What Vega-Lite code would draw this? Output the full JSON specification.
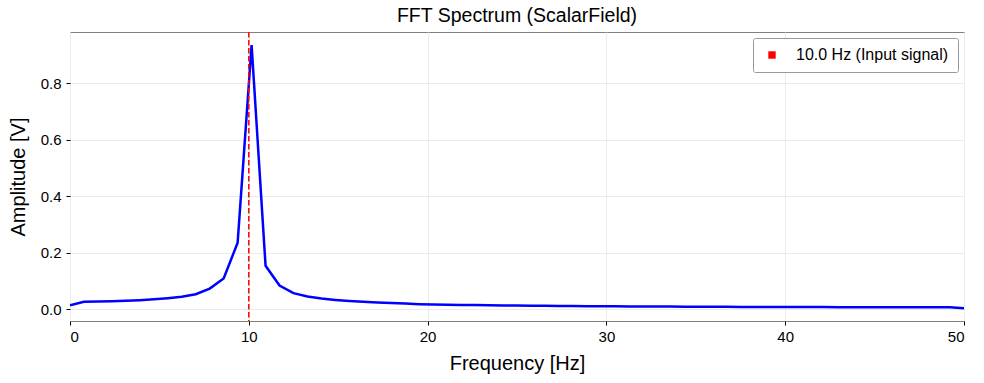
{
  "$schema": "https://vega.github.io/schema/vega-lite/v6.json",
  "width": 894,
  "height": 289,
  "autosize": {"type": "none"},
  "padding": {"left": 70, "top": 32, "right": 20, "bottom": 62},
  "background": "white",
  "config": {
    "font": "Liberation Sans",
    "view": {"stroke": "#808080", "strokeWidth": 1},
    "axis": {
      "domain": false,
      "grid": true,
      "gridColor": "#ebebeb",
      "gridWidth": 1,
      "tickColor": "#000000",
      "tickSize": 4,
      "labelFont": "Liberation Sans",
      "labelFontSize": 15,
      "labelColor": "#000000",
      "titleFont": "Liberation Sans",
      "titleFontSize": 20,
      "titleFontWeight": "normal",
      "titleColor": "#000000"
    }
  },
  "title": {
    "text": "FFT Spectrum (ScalarField)",
    "font": "Liberation Sans",
    "fontSize": 19.5,
    "fontWeight": "normal",
    "color": "#000000",
    "offset": 5
  },
  "datasets": {
    "spectrum": [
      {"freq": 0.0, "amp": 0.015},
      {"freq": 0.78125, "amp": 0.027},
      {"freq": 1.5625, "amp": 0.028},
      {"freq": 2.34375, "amp": 0.029},
      {"freq": 3.125, "amp": 0.031},
      {"freq": 3.90625, "amp": 0.033},
      {"freq": 4.6875, "amp": 0.036},
      {"freq": 5.46875, "amp": 0.040},
      {"freq": 6.25, "amp": 0.045},
      {"freq": 7.03125, "amp": 0.054},
      {"freq": 7.8125, "amp": 0.074},
      {"freq": 8.59375, "amp": 0.110},
      {"freq": 9.375, "amp": 0.236},
      {"freq": 10.15625, "amp": 0.936},
      {"freq": 10.9375, "amp": 0.155},
      {"freq": 11.71875, "amp": 0.085},
      {"freq": 12.5, "amp": 0.058},
      {"freq": 13.28125, "amp": 0.046},
      {"freq": 14.0625, "amp": 0.039},
      {"freq": 14.84375, "amp": 0.034},
      {"freq": 15.625, "amp": 0.030},
      {"freq": 16.40625, "amp": 0.027},
      {"freq": 17.1875, "amp": 0.025},
      {"freq": 17.96875, "amp": 0.023},
      {"freq": 18.75, "amp": 0.021},
      {"freq": 19.53125, "amp": 0.019},
      {"freq": 20.3125, "amp": 0.018},
      {"freq": 21.09375, "amp": 0.017},
      {"freq": 21.875, "amp": 0.016},
      {"freq": 22.65625, "amp": 0.0155},
      {"freq": 23.4375, "amp": 0.015},
      {"freq": 24.21875, "amp": 0.0145},
      {"freq": 25.0, "amp": 0.014},
      {"freq": 25.78125, "amp": 0.0135},
      {"freq": 26.5625, "amp": 0.013},
      {"freq": 27.34375, "amp": 0.0125},
      {"freq": 28.125, "amp": 0.012},
      {"freq": 28.90625, "amp": 0.0118},
      {"freq": 29.6875, "amp": 0.0115},
      {"freq": 30.46875, "amp": 0.0112},
      {"freq": 31.25, "amp": 0.011},
      {"freq": 32.03125, "amp": 0.0107},
      {"freq": 32.8125, "amp": 0.0105},
      {"freq": 33.59375, "amp": 0.0102},
      {"freq": 34.375, "amp": 0.010},
      {"freq": 35.15625, "amp": 0.0098},
      {"freq": 35.9375, "amp": 0.0096},
      {"freq": 36.71875, "amp": 0.0094},
      {"freq": 37.5, "amp": 0.0092},
      {"freq": 38.28125, "amp": 0.009},
      {"freq": 39.0625, "amp": 0.0089},
      {"freq": 39.84375, "amp": 0.0088},
      {"freq": 40.625, "amp": 0.0087},
      {"freq": 41.40625, "amp": 0.0086},
      {"freq": 42.1875, "amp": 0.0085},
      {"freq": 42.96875, "amp": 0.0084},
      {"freq": 43.75, "amp": 0.0083},
      {"freq": 44.53125, "amp": 0.0082},
      {"freq": 45.3125, "amp": 0.0081},
      {"freq": 46.09375, "amp": 0.008},
      {"freq": 46.875, "amp": 0.008},
      {"freq": 47.65625, "amp": 0.0079},
      {"freq": 48.4375, "amp": 0.0079},
      {"freq": 49.21875, "amp": 0.0078},
      {"freq": 50.0, "amp": 0.004}
    ],
    "marker": [
      {"freq": 10.0, "label": "10.0 Hz (Input signal)"}
    ]
  },
  "layer": [
    {
      "data": {"name": "spectrum"},
      "mark": {"type": "line", "color": "#0000ff", "strokeWidth": 2.5, "clip": true},
      "encoding": {
        "x": {
          "field": "freq",
          "type": "quantitative",
          "scale": {"domain": [0, 50], "nice": false, "zero": false},
          "axis": {"values": [0, 10, 20, 30, 40, 50], "title": "Frequency [Hz]", "titlePadding": 9, "labelPadding": 4}
        },
        "y": {
          "field": "amp",
          "type": "quantitative",
          "scale": {"domain": [-0.0407, 0.982], "nice": false, "zero": false},
          "axis": {"values": [0, 0.2, 0.4, 0.6, 0.8], "format": ".1f", "title": "Amplitude [V]", "titlePadding": 12, "labelPadding": 5}
        }
      }
    },
    {
      "data": {"name": "marker"},
      "mark": {"type": "rule", "strokeWidth": 1.5, "strokeDash": [5.5, 2.5]},
      "encoding": {
        "x": {"field": "freq", "type": "quantitative"},
        "color": {
          "field": "label",
          "type": "nominal",
          "scale": {"range": ["#ff0000"]},
          "legend": {
            "title": null,
            "orient": "top-right",
            "offset": 6,
            "symbolType": "square",
            "symbolSize": 55,
            "symbolFillColor": "#ff0000",
            "symbolStrokeWidth": 0,
            "symbolOffset": 2,
            "labelOffset": 16,
            "labelFont": "Liberation Sans",
            "labelFontSize": 16,
            "labelColor": "#000000",
            "strokeColor": "#999999",
            "fillColor": "#ffffff",
            "padding": 9,
            "cornerRadius": 2
          }
        }
      }
    }
  ]
}
